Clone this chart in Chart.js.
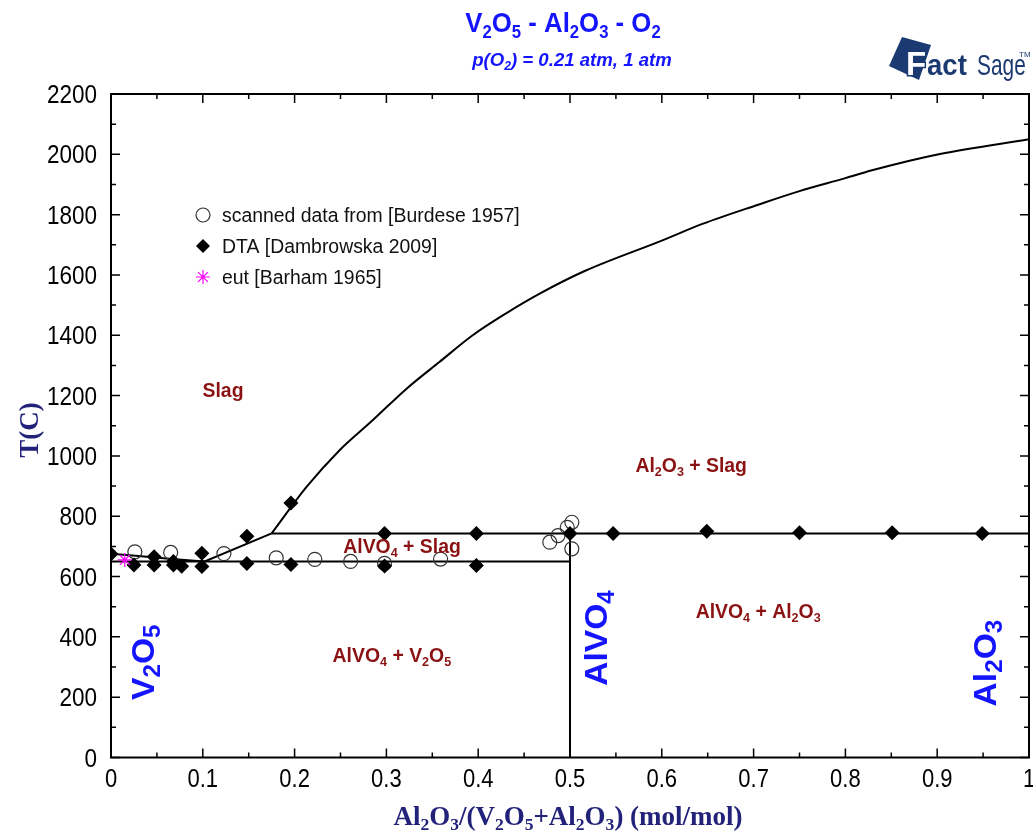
<!DOCTYPE html>
<html>
<head>
<meta charset="utf-8">
<title>V2O5 - Al2O3 - O2</title>
<script src="https://cdn.jsdelivr.net/npm/chart.js@4.4.1/dist/chart.umd.min.js"></script>
<style>
  body { margin: 0; background: #fff; }
  #wrap { width: 1033px; height: 832px; }
</style>
</head>
<body>
<div id="wrap"><canvas id="phase" width="1033" height="832"></canvas></div>
<script>
// axis ticks
const xTicks = [0, 0.1, 0.2, 0.3, 0.4, 0.5, 0.6, 0.7, 0.8, 0.9, 1];
const yTicks = [0, 200, 400, 600, 800, 1000, 1200, 1400, 1600, 1800, 2000, 2200];

// calculated phase boundaries
const liqLeftX  = [0, 0.03, 0.066, 0.102, 0.175];
const liqLeftT  = [676, 668, 658, 650, 743];
const liqRightX = [0.175, 0.213, 0.249, 0.285, 0.322, 0.358, 0.394, 0.43, 0.467, 0.516, 0.6, 0.645, 0.704, 0.75, 0.8, 0.829, 0.903, 1.0];
const liqRightT = [743, 897, 1019, 1118, 1223, 1312, 1400, 1472, 1538, 1613, 1714, 1770, 1832, 1878, 1921, 1947, 2001, 2050];
const eutecticX = [0, 0.5];
const eutecticT = [650, 650];
const peritecticX = [0.175, 1];
const peritecticT = [743, 743];
const alvo4X = [0.5, 0.5];
const alvo4T = [0, 743];

// experimental points
const burdeseX = [0.026, 0.065, 0.123, 0.18, 0.222, 0.261, 0.298, 0.359, 0.478, 0.487, 0.497, 0.502, 0.502];
const burdeseT = [682, 680, 676, 662, 657, 650, 644, 658, 714, 736, 763, 780, 692];
const dtaX = [0, 0.025, 0.047, 0.047, 0.068, 0.068, 0.077, 0.099, 0.099, 0.148, 0.148, 0.196, 0.196, 0.298, 0.298, 0.398, 0.398, 0.5, 0.547, 0.649, 0.75, 0.851, 0.949];
const dtaT = [675, 638, 666, 638, 650, 638, 634, 677, 633, 734, 643, 844, 640, 743, 635, 743, 637, 743, 743, 750, 745, 745, 743];
const barhamX = [0.015];
const barhamT = [655];

// phase field labels
const fieldNames = ['Slag', 'Al_2O_3 + Slag', 'AlVO_4 + Slag', 'AlVO_4 + Al_2O_3', 'AlVO_4 + V_2O_5'];
const fieldX = [0.122, 0.632, 0.317, 0.705, 0.306];
const fieldT = [1218, 970, 701, 486, 340];
const compoundNames = ['V_2O_5', 'AlVO_4', 'Al_2O_3'];
const compoundX = [0.034, 0.528, 0.951];
const compoundT = [316, 396, 313];

const legendNames = ['scanned data from [Burdese 1957]', 'DTA [Dambrowska 2009]', 'eut [Barham 1965]'];

const pts = (xs, ys) => xs.map((x, i) => ({ x: x, y: ys[i] }));

// draws text with "_c" as a subscript character
function richText(ctx, text, x, y, o) {
  const parts = [];
  for (let i = 0; i < text.length; i++) {
    if (text[i] === '_') { parts.push({ t: text[++i], sub: true }); continue; }
    const last = parts[parts.length - 1];
    if (last && !last.sub) last.t += text[i]; else parts.push({ t: text[i], sub: false });
  }
  const size = o.size, subSize = size * (o.sub || 0.65);
  const font = s => `${o.style || 'normal'} ${o.weight || 'normal'} ${s}px ${o.family || '"Liberation Sans", Arial, sans-serif'}`;
  ctx.save();
  let w = 0;
  parts.forEach(p => { ctx.font = font(p.sub ? subSize : size); p.w = ctx.measureText(p.t).width; w += p.w; });
  ctx.translate(x, y);
  if (o.rot) ctx.rotate(o.rot);
  ctx.scale(o.sx || 1, 1);
  let cx = o.align === 'left' ? 0 : o.align === 'right' ? -w : -w / 2;
  ctx.fillStyle = o.color || '#000';
  ctx.textAlign = 'left';
  ctx.textBaseline = 'alphabetic';
  const base = size * 0.36;
  parts.forEach(p => {
    ctx.font = font(p.sub ? subSize : size);
    ctx.fillText(p.t, cx, p.sub ? base + size * 0.2 : base);
    cx += p.w;
  });
  ctx.restore();
}

const decor = {
  id: 'decor',
  afterDraw(chart) {
    const ctx = chart.ctx, a = chart.chartArea;
    const xs = chart.scales.x, ys = chart.scales.y;
    ctx.save();
    ctx.strokeStyle = '#000';
    ctx.lineWidth = 2;
    ctx.strokeRect(a.left, a.top, a.right - a.left, a.bottom - a.top);
    ctx.lineWidth = 1.5;
    ctx.beginPath();
    for (let i = 0; i <= 20; i++) {
      const px = xs.getPixelForValue(i * 0.05), len = i % 2 ? 5 : 9;
      ctx.moveTo(px, a.bottom); ctx.lineTo(px, a.bottom - len);
      ctx.moveTo(px, a.top); ctx.lineTo(px, a.top + len);
    }
    for (let i = 0; i <= 22; i++) {
      const py = ys.getPixelForValue(i * 100), len = i % 2 ? 5 : 9;
      ctx.moveTo(a.left, py); ctx.lineTo(a.left + len, py);
      ctx.moveTo(a.right, py); ctx.lineTo(a.right - len, py);
    }
    ctx.stroke();
    ctx.restore();

    // tick labels
    xTicks.forEach(v => richText(ctx, String(v), xs.getPixelForValue(v), a.bottom + 20, { size: 25, sx: 0.88 }));
    yTicks.forEach(v => richText(ctx, String(v), a.left - 14, ys.getPixelForValue(v), { size: 25, sx: 0.9, align: 'right' }));

    // axis titles
    const serif = '"Liberation Serif", "Times New Roman", serif';
    richText(ctx, 'T(C)', 28, 430, { size: 27, weight: 'bold', family: serif, color: '#22227a', rot: -Math.PI / 2 });
    richText(ctx, 'Al_2O_3/(V_2O_5+Al_2O_3) (mol/mol)', 568, 815, { size: 27, weight: 'bold', family: serif, color: '#22227a' });

    // title
    richText(ctx, 'V_2O_5 - Al_2O_3 - O_2', 563, 22, { size: 28, weight: 'bold', color: '#1414ff', sx: 0.92 });
    richText(ctx, 'p(O_2) = 0.21 atm, 1 atm', 572, 59, { size: 19, weight: 'bold', style: 'italic', color: '#1414ff', sx: 0.98 });

    // phase fields
    fieldNames.forEach((t, i) => richText(ctx, t, xs.getPixelForValue(fieldX[i]), ys.getPixelForValue(fieldT[i]),
      { size: 20, weight: 'bold', color: '#8b1212', sx: 0.97 }));
    compoundNames.forEach((t, i) => richText(ctx, t, xs.getPixelForValue(compoundX[i]), ys.getPixelForValue(compoundT[i]),
      { size: 32, weight: 'bold', color: '#1414ff', rot: -Math.PI / 2, sx: 1.05, sub: 0.72 }));

    // legend
    const lx = 203, ly = [215, 246, 277];
    ctx.save();
    ctx.lineWidth = 1.2;
    ctx.strokeStyle = '#333';
    ctx.beginPath(); ctx.arc(lx, ly[0], 7, 0, Math.PI * 2); ctx.stroke();
    ctx.fillStyle = '#000';
    ctx.beginPath();
    ctx.moveTo(lx - 7, ly[1]); ctx.lineTo(lx, ly[1] - 7); ctx.lineTo(lx + 7, ly[1]); ctx.lineTo(lx, ly[1] + 7);
    ctx.closePath(); ctx.fill();
    ctx.strokeStyle = '#ff00ff';
    ctx.beginPath();
    for (let k = 0; k < 4; k++) {
      const ang = k * Math.PI / 4;
      ctx.moveTo(lx - 7 * Math.cos(ang), ly[2] - 7 * Math.sin(ang));
      ctx.lineTo(lx + 7 * Math.cos(ang), ly[2] + 7 * Math.sin(ang));
    }
    ctx.stroke();
    ctx.restore();
    legendNames.forEach((t, i) => richText(ctx, t, 222, ly[i], { size: 20, sx: 0.97, align: 'left', color: '#111' }));

    // FactSage logo
    ctx.save();
    const navy = '#1c3a72';
    ctx.fillStyle = navy;
    ctx.beginPath();
    ctx.moveTo(902, 37); ctx.lineTo(931, 45); ctx.lineTo(919, 80); ctx.lineTo(889, 66);
    ctx.closePath(); ctx.fill();
    ctx.font = 'bold 33px "Liberation Sans", Arial, sans-serif';
    ctx.textBaseline = 'alphabetic';
    ctx.lineWidth = 3;
    ctx.strokeStyle = navy;
    ctx.strokeText('F', 906, 75);
    ctx.fillStyle = '#fff';
    ctx.fillText('F', 906, 75);
    ctx.fillStyle = navy;
    ctx.save();
    ctx.translate(927, 75); ctx.scale(0.95, 1);
    ctx.font = 'bold 29px "Liberation Sans", Arial, sans-serif';
    ctx.fillText('act', 0, 0);
    ctx.restore();
    ctx.save();
    ctx.translate(977, 75); ctx.scale(0.72, 1);
    ctx.font = '29px "Liberation Sans", Arial, sans-serif';
    ctx.fillText('Sage', 0, 0);
    ctx.restore();
    ctx.font = '8px "Liberation Sans", Arial, sans-serif';
    ctx.fillText('TM', 1019, 57);
    ctx.restore();
  }
};

const lineStyle = { showLine: true, borderColor: '#000', borderWidth: 2, pointRadius: 0, fill: false };

new Chart(document.getElementById('phase'), {
  type: 'scatter',
  data: {
    datasets: [
      { label: 'eut [Barham 1965]', data: pts(barhamX, barhamT), pointStyle: 'star', pointRadius: 7,
        borderColor: '#ff00ff', backgroundColor: '#ff00ff', borderWidth: 1.2 },
      { label: 'DTA [Dambrowska 2009]', data: pts(dtaX, dtaT), pointStyle: 'rectRot', pointRadius: 7.5,
        borderColor: '#000', backgroundColor: '#000', borderWidth: 0 },
      { label: 'scanned data from [Burdese 1957]', data: pts(burdeseX, burdeseT), pointStyle: 'circle', pointRadius: 7,
        borderColor: '#333', backgroundColor: 'rgba(255,255,255,0)', borderWidth: 1.2 },
      Object.assign({ label: 'liquidus V2O5 side', data: pts(liqLeftX, liqLeftT) }, lineStyle),
      Object.assign({ label: 'liquidus Al2O3 side', data: pts(liqRightX, liqRightT), cubicInterpolationMode: 'monotone' }, lineStyle),
      Object.assign({ label: 'eutectic', data: pts(eutecticX, eutecticT) }, lineStyle),
      Object.assign({ label: 'peritectic', data: pts(peritecticX, peritecticT) }, lineStyle),
      Object.assign({ label: 'AlVO4', data: pts(alvo4X, alvo4T) }, lineStyle)
    ]
  },
  options: {
    responsive: false,
    animation: false,
    layout: { autoPadding: false, padding: { top: 94, right: 4, left: 0, bottom: 0 } },
    plugins: { legend: { display: false }, tooltip: { enabled: false } },
    scales: {
      x: {
        type: 'linear', min: 0, max: 1,
        grid: { display: false }, border: { display: false }, ticks: { display: false },
        afterFit: s => { s.height = 74.5; }
      },
      y: {
        type: 'linear', min: 0, max: 2200,
        grid: { display: false }, border: { display: false }, ticks: { display: false },
        afterFit: s => { s.width = 111; }
      }
    }
  },
  plugins: [decor]
});
</script>
</body>
</html>
